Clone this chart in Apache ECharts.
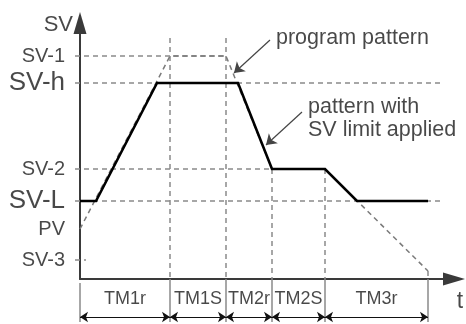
<!DOCTYPE html>
<html><head><meta charset="utf-8">
<script src="https://cdn.jsdelivr.net/npm/echarts@6/dist/echarts.min.js"></script>
<style>html,body{margin:0;padding:0;background:#fff}#c{width:466px;height:324px}</style>
</head><body><div id="c"></div>
<script>
// ---- data ----
const levelNames  = ['SV-1', 'SV-h', 'SV-2', 'SV-L', 'PV', 'SV-3'];
const levelValues = [223, 196, 110, 78, 50, 19];
const phaseNames  = ['TM1r', 'TM1S', 'TM2r', 'TM2S', 'TM3r'];
const phaseBounds = [0, 90, 146, 192, 245, 348];
const programX = [0, 90, 146, 192, 245, 348];
const programY = [50, 223, 223, 110, 110, 8];
const limitedX = [0, 16, 77, 158, 192, 245, 277, 348];
const limitedY = [78, 78, 196, 196, 110, 110, 78, 78];
const axisNames = ['SV', 't'];
const noteProgram = 'program pattern';
const noteLimited = 'pattern with\nSV limit applied';

// ---- layout (not data) ----
const FONT = "'Liberation Sans', Arial, Helvetica, sans-serif";
const bigLevels = ['SV-h', 'SV-L'];
const guideStart = -5;
const guideEnd = {'SV-1': 148, 'SV-h': 362, 'SV-2': 245, 'SV-L': 362, 'SV-3': 6};
const vGuideTop = [null, 241, 241, 110, 110, 8];
const tickTop = [-4, 0, 0, 0, 0, 0];
const tickBottom = -43;
const dimY = -38;
const phaseLabelY = -20;
const pointers = [[[190, 239], [154, 206]], [[222, 167], [186, 134]]];

const guideData = [];
levelNames.forEach((n, i) => {
  if (guideEnd[n] != null) guideData.push({coords: [[guideStart, levelValues[i]], [guideEnd[n], levelValues[i]]]});
});
phaseBounds.forEach((b, i) => {
  if (vGuideTop[i] != null) guideData.push({coords: [[b, vGuideTop[i]], [b, 0]]});
});
const tickData = phaseBounds.map((b, i) => ({coords: [[b, tickTop[i]], [b, tickBottom]]}));
const dimData = phaseNames.map((n, i) => ({coords: [[phaseBounds[i], dimY], [phaseBounds[i + 1], dimY]]}));

const chart = echarts.init(document.getElementById('c'), null, {renderer: 'canvas'});
const axisCommon = {
  type: 'value',
  axisLine: {show: true, onZero: false, lineStyle: {color: '#3a3a3a', width: 2}, symbol: ['none', 'triangle'], symbolSize: [13, 22]},
  axisTick: {show: false}, axisLabel: {show: false}, splitLine: {show: false}
};
chart.setOption({
  animation: false,
  backgroundColor: '#fff',
  textStyle: {fontFamily: FONT},
  grid: {left: 80, right: 12, top: 23, bottom: 45},
  xAxis: Object.assign({}, axisCommon, {min: 0, max: 374}),
  yAxis: Object.assign({}, axisCommon, {min: 0, max: 256}),
  series: [
    {type: 'lines', coordinateSystem: 'cartesian2d', clip: false, silent: true, z: 1,
     lineStyle: {color: '#8a8a8a', width: 1.5, type: [5, 4], opacity: 1},
     data: guideData},
    {type: 'lines', coordinateSystem: 'cartesian2d', clip: false, silent: true, z: 1,
     lineStyle: {color: '#8a8a8a', width: 1.5, opacity: 1},
     data: tickData},
    {type: 'line', clip: false, silent: true, z: 2, symbol: 'none',
     lineStyle: {color: '#7a7a7a', width: 1.5, type: [5, 4]},
     data: programX.map((x, i) => [x, programY[i]])},
    {type: 'line', clip: false, silent: true, z: 3, symbol: 'none',
     lineStyle: {color: '#000', width: 2.6, join: 'miter'},
     data: limitedX.map((x, i) => [x, limitedY[i]])},
    {type: 'lines', coordinateSystem: 'cartesian2d', clip: false, silent: true, z: 3,
     symbol: ['arrow', 'arrow'], symbolSize: 8,
     lineStyle: {color: '#111', width: 1, opacity: 1},
     data: dimData},
    {type: 'lines', coordinateSystem: 'cartesian2d', clip: false, silent: true, z: 3,
     symbol: ['none', 'arrow'], symbolSize: 10,
     lineStyle: {color: '#444', width: 1.2, opacity: 1},
     data: pointers.map(p => ({coords: p}))},
    {type: 'scatter', clip: false, silent: true, z: 4, symbolSize: 0,
     label: {show: true, position: 'left', distance: 15, color: '#1a1a1a', fontFamily: FONT,
       formatter: p => p.name},
     data: levelNames.map((n, i) => ({name: n, value: [0, levelValues[i]],
       label: {fontSize: bigLevels.includes(n) ? 26 : 20}}))},
    {type: 'scatter', clip: false, silent: true, z: 4, symbolSize: 0,
     label: {show: true, position: 'inside', color: '#1a1a1a', fontFamily: FONT, fontSize: 18,
       formatter: p => p.name},
     data: phaseNames.map((n, i) => ({name: n, value: [(phaseBounds[i] + phaseBounds[i + 1]) / 2, phaseLabelY]}))},
    {type: 'scatter', clip: false, silent: true, z: 4, symbolSize: 0,
     label: {show: true, color: '#1a1a1a', fontFamily: FONT, fontSize: 22, formatter: p => p.name},
     data: [
       {name: axisNames[0], value: [0, 254], label: {position: 'left', distance: 7}},
       {name: axisNames[1], value: [380, -23], label: {position: 'inside', fontSize: 23}}
     ]},
    {type: 'scatter', clip: false, silent: true, z: 4, symbolSize: 0,
     label: {show: true, position: 'right', distance: 0, color: '#1a1a1a', fontFamily: FONT,
       fontSize: 21.5, lineHeight: 23, align: 'left', formatter: p => p.name},
     data: [
       {name: noteProgram, value: [196, 241]},
       {name: noteLimited, value: [228, 160]}
     ]}
  ]
});
</script></body></html>
